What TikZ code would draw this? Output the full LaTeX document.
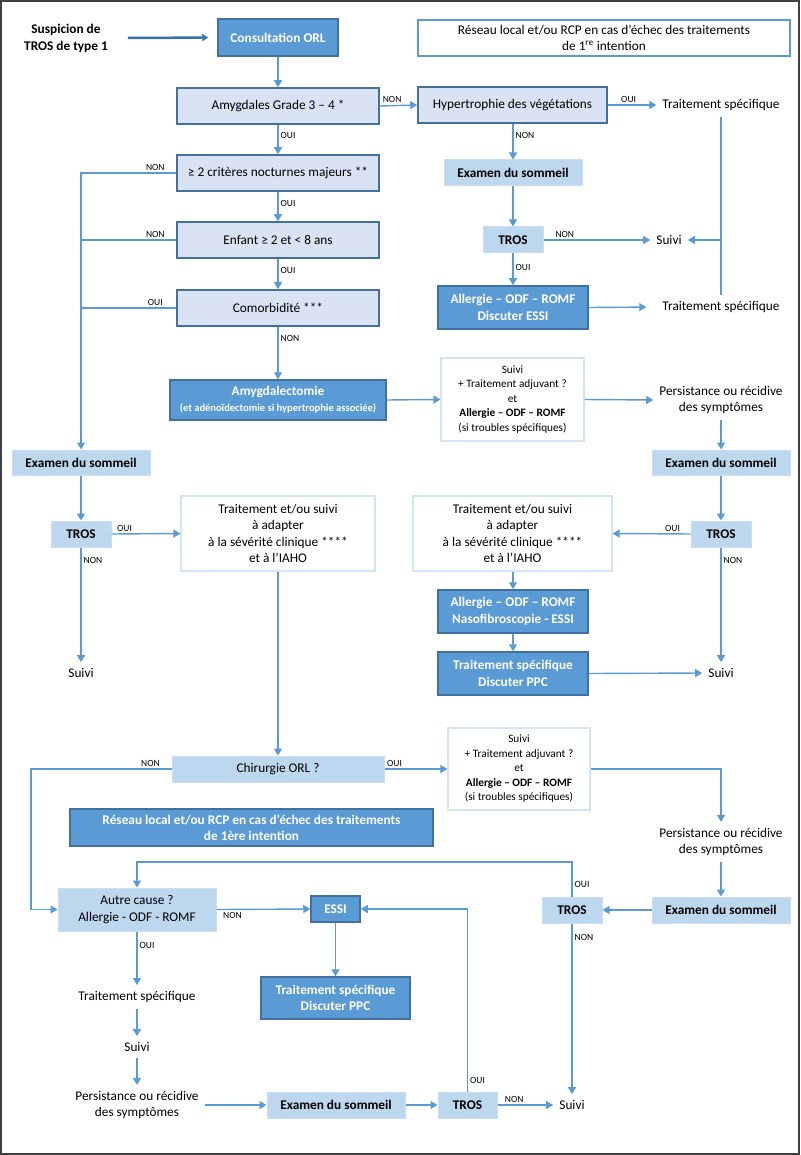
\documentclass[tikz,border=0pt]{standalone}
\usepackage{fontspec}
\setmainfont{Carlito}
\usetikzlibrary{arrows.meta}
\definecolor{dfill}{HTML}{5B9BD5}
\definecolor{dborder}{HTML}{41719C}
\definecolor{qfill}{HTML}{DAE3F3}
\definecolor{lfill}{HTML}{BDD7EE}
\definecolor{lborder}{HTML}{C9DEF1}
\definecolor{wborder}{HTML}{D2E4F5}
\definecolor{lcol}{HTML}{5B9BD5}
\definecolor{scol}{HTML}{3A70AE}
\definecolor{framecol}{HTML}{404040}
\tikzset{
  base/.style={align=center, inner sep=0pt, font=\fontsize{13.3}{16.3}\selectfont},
  dark/.style={base, fill=dfill, draw=dborder, line width=1.5pt, text=white, font=\fontsize{13.3}{16.3}\selectfont\bfseries},
  qbox/.style={base, fill=qfill, draw=dborder, line width=1.5pt},
  lbox/.style={base, fill=lfill, draw=lborder, line width=1pt},
  lboxb/.style={lbox, font=\fontsize{13.3}{16.3}\selectfont\bfseries},
  wbox/.style={base, fill=white, draw=wborder, line width=1.2pt},
  sbox/.style={wbox, font=\fontsize{11.3}{14.5}\selectfont},
  txt/.style={base, inner xsep=6pt, inner ysep=6pt},
  lab/.style={font=\fontsize{9.5}{10}\selectfont, inner sep=2pt},
  ln/.style={draw=lcol, line width=1.4pt},
  arr/.style={ln, -{Triangle[length=7pt,width=8pt]}},
}
\begin{document}
\begin{tikzpicture}[x=1pt,y=-1pt]
\useasboundingbox (0,0) rectangle (800,1155);
\draw[framecol, line width=2pt] (1,1) rectangle (799,1154);

% ---- top
\node[txt, inner xsep=20pt, font=\fontsize{13.3}{17}\selectfont\bfseries] (susp) at (66,38) {Suspicion de\\TROS de type 1};
\node[dark, minimum width=120pt, minimum height=37pt] (cons) at (278,37.5) {Consultation ORL};
\node[base, draw=dfill, line width=1.2pt, fill=white, minimum width=372pt, minimum height=36pt] (res1) at (604,38) {Réseau local et/ou RCP en cas d’échec des traitements\\de 1\textsuperscript{re} intention};

\node[qbox, minimum width=202pt, minimum height=36pt] (amy) at (278,106) {Amygdales Grade 3 – 4 *};
\node[qbox, minimum width=189pt, minimum height=36pt] (hyp) at (512.5,105) {Hypertrophie des végétations};
\node[txt] (ts1) at (721,105) {Traitement spécifique};
\node[lboxb, minimum width=138pt, minimum height=26pt] (exa1) at (513,173) {Examen du sommeil};
\node[lboxb, minimum width=60pt, minimum height=26pt] (tros1) at (513,240) {TROS};
\node[txt] (suivi1) at (669,240) {Suivi};
\node[dark, minimum width=150pt, minimum height=43pt] (all1) at (513,307.5) {Allergie – ODF – ROMF\\Discuter ESSI};
\node[txt] (ts2) at (721,307) {Traitement spécifique};

\node[qbox, minimum width=202pt, minimum height=36pt] (crit) at (278,173) {≥ 2 critères nocturnes majeurs **};
\node[qbox, minimum width=202pt, minimum height=36pt] (enf) at (278,240) {Enfant ≥ 2 et < 8 ans};
\node[qbox, minimum width=202pt, minimum height=36pt] (como) at (278,308) {Comorbidité ***};
\node[dark, minimum width=216pt, minimum height=40pt] (amyg) at (278,400) {{\fontsize{13.3}{15}\selectfont Amygdalectomie}\\{\fontsize{10.5}{12.5}\selectfont (et adénoïdectomie si hypertrophie associée)}};
\node[sbox, minimum width=143pt, minimum height=83pt] (sv1) at (512.5,399.5) {Suivi\\+ Traitement adjuvant ?\\et\\\textbf{Allergie – ODF – ROMF}\\(si troubles spécifiques)};
\node[txt] (pers1) at (721,400) {Persistance ou récidive\\des symptômes};
\node[lboxb, minimum width=138pt, minimum height=25pt] (exa2) at (721,462.5) {Examen du sommeil};
\node[lboxb, minimum width=60pt, minimum height=26pt] (tros2) at (721,534) {TROS};
\node[wbox, minimum width=199pt, minimum height=75pt] (trt2) at (512.5,533.5) {Traitement et/ou suivi\\à adapter\\à la sévérité clinique ****\\et à l’IAHO};
\node[txt] (suivi2) at (721,673) {Suivi};
\node[dark, minimum width=150pt, minimum height=43pt] (all2) at (513,611.5) {Allergie – ODF – ROMF\\Nasofibroscopie - ESSI};
\node[dark, minimum width=150pt, minimum height=43pt] (tsp2) at (513,673.5) {Traitement spécifique\\Discuter PPC};

\node[lboxb, minimum width=138pt, minimum height=25pt] (exa3) at (81,462.5) {Examen du sommeil};
\node[lboxb, minimum width=60pt, minimum height=26pt] (tros3) at (81,534) {TROS};
\node[wbox, minimum width=194pt, minimum height=75pt] (trt1) at (278,533.5) {Traitement et/ou suivi\\à adapter\\à la sévérité clinique ****\\et à l’IAHO};
\node[txt] (suivi3) at (81,673) {Suivi};

% ---- bottom
\node[lbox, minimum width=212pt, minimum height=26pt] (chir) at (278,769) {Chirurgie ORL ?};
\node[sbox, minimum width=142pt, minimum height=82pt] (sv2) at (519,769) {Suivi\\+ Traitement adjuvant ?\\et\\\textbf{Allergie – ODF – ROMF}\\(si troubles spécifiques)};
\node[txt] (pers2) at (721,842) {Persistance ou récidive\\des symptômes};
\node[dark, minimum width=363pt, minimum height=37pt] (res2) at (251.5,827.5) {Réseau local et/ou RCP en cas d’échec des traitements\\de 1ère intention};
\node[lboxb, minimum width=138pt, minimum height=26pt] (exa4) at (721,910) {Examen du sommeil};
\node[lboxb, minimum width=60pt, minimum height=26pt] (tros4) at (572,910) {TROS};
\node[lbox, minimum width=158pt, minimum height=43pt] (autre) at (137,909.5) {Autre cause ?\\Allergie - ODF - ROMF};
\node[dark, minimum width=49pt, minimum height=26pt] (essi) at (335.5,909) {ESSI};
\node[dark, minimum width=149pt, minimum height=42pt] (tsp3) at (335.5,998) {Traitement spécifique\\Discuter PPC};
\node[txt] (ts3) at (137,997) {Traitement spécifique};
\node[txt] (suivi5) at (137,1047) {Suivi};
\node[txt] (pers3) at (137,1105) {Persistance ou récidive\\des symptômes};
\node[lboxb, minimum width=138pt, minimum height=26pt] (exa5) at (336,1105) {Examen du sommeil};
\node[lboxb, minimum width=59pt, minimum height=26pt] (tros5) at (467.5,1105) {TROS};
\node[txt] (suivi4) at (572,1105) {Suivi};

\coordinate (cl) at (31,769);
\coordinate (ct) at (572,862);

% ---- connectors
\draw[draw=scol, line width=2.5pt, -{Triangle[length=6pt,width=7pt]}, shorten >=9pt] (susp.east) -- (cons.west);
\draw[arr] (cons.south) -- (amy.north);
\draw[arr] (amy.east) -- node[lab, above, pos=0.33]{NON} (hyp.west);
\draw[arr] (hyp.east) -- node[lab, above, pos=0.43]{OUI} (ts1.west);
\draw[arr] (hyp.south -| exa1.north) -- node[lab, right, pos=0.32]{NON} (exa1.north);
\draw[arr] (exa1.south) -- (tros1.north);
\draw[arr] (tros1.east) -- node[lab, above, pos=0.2]{NON} (suivi1.west);
\draw[arr] (tros1.south) -- node[lab, right, pos=0.45]{OUI} (all1.north);
\draw[arr, shorten >=10pt] (all1.east) -- (ts2.west);
\draw[ln] (ts1.south) -- (ts2.north);
\draw[arr] (ts1.south |- suivi1.east) -- (suivi1.east);

\draw[arr] (amy.south) -- node[lab, right, pos=0.35]{OUI} (crit.north);
\draw[arr] (crit.south) -- node[lab, right, pos=0.4]{OUI} (enf.north);
\draw[arr] (enf.south) -- node[lab, right, pos=0.4]{OUI} (como.north);
\draw[arr] (como.south) -- node[lab, right, pos=0.22]{NON} (amyg.north);
\draw[arr] (crit.west) -- node[lab, above, pos=0.22]{NON} (crit.west -| exa3.north) -- (exa3.north);
\draw[ln] (enf.west) -- node[lab, above, pos=0.22]{NON} (enf.west -| exa3.north);
\draw[ln] (como.west) -- node[lab, above, pos=0.22]{OUI} (como.west -| exa3.north);
\draw[arr] (amyg.east) -- (sv1.west);
\draw[arr] (sv1.east) -- (pers1.west);
\draw[arr] (pers1.south) -- (exa2.north);
\draw[arr] (exa2.south) -- (tros2.north);
\draw[arr] (tros2.west) -- node[lab, above, pos=0.23]{OUI} (trt2.east);
\draw[arr] (tros2.south) -- node[lab, right, pos=0.11]{NON} (suivi2.north);
\draw[arr] (trt2.south -| all2.north) -- (all2.north);
\draw[arr] (all2.south) -- (tsp2.north);
\draw[arr] (tsp2.east) -- (suivi2.west);
\draw[arr] (exa3.south) -- (tros3.north);
\draw[arr] (tros3.east) -- node[lab, above, pos=0.19]{OUI} (trt1.west);
\draw[arr] (tros3.south) -- node[lab, right, pos=0.11]{NON} (suivi3.north);

\draw[arr] (trt1.south) -- (chir.north);
\draw[arr] (chir.west) -- node[lab, above, pos=0.15]{NON} (cl) -- (cl |- autre.west) -- (autre.west);
\draw[arr] (chir.east) -- node[lab, above, pos=0.16]{OUI} (sv2.west);
\draw[arr] (sv2.east) -- (sv2.east -| pers2.north) -- (pers2.north);
\draw[arr] (pers2.south) -- (exa4.north);
\draw[arr] (exa4.west) -- (tros4.east);
\draw[arr] (tros4.north) -- node[lab, right, pos=0.35]{OUI} (ct) -- (ct -| autre.north) -- (autre.north);
\draw[arr] (tros4.south) -- node[lab, right, pos=0.08]{NON} (suivi4.north);
\draw[arr] (autre.east) -- node[lab, below, pos=0.17]{NON} (essi.west);
\draw[arr] (essi.south) -- (tsp3.north);
\draw[arr] (tros5.north) -- node[lab, right, pos=0.06]{OUI} (tros5.north |- essi.east) -- (essi.east);
\draw[arr] (autre.south) -- node[lab, right, pos=0.26]{OUI} (ts3.north);
\draw[arr] (ts3.south) -- (suivi5.north);
\draw[arr] (suivi5.south) -- (pers3.north);
\draw[arr] (pers3.east) -- (exa5.west);
\draw[arr] (exa5.east) -- (tros5.west);
\draw[arr] (tros5.east) -- node[lab, above, pos=0.3]{NON} (suivi4.west);
\end{tikzpicture}
\end{document}
